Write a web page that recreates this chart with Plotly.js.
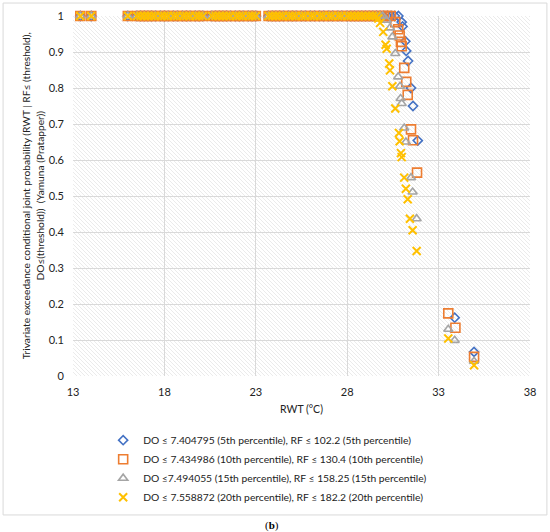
<!DOCTYPE html>
<html><head><meta charset="utf-8">
<script src="https://cdn.plot.ly/plotly-3.0.1.min.js"></script>
<style>html,body{margin:0;padding:0;background:#fff}#plot{width:550px;height:532px}</style>
</head><body><div id="plot"></div>
<script>
// RWT observations where the joint probability equals 1 for all four series
const rwtTop = [13.4, 14.0, 16.0, 16.5, 16.7, 16.9, 17.1, 17.3, 17.5, 17.8, 18.0, 18.2, 18.5, 18.7, 19.0, 19.2, 19.4, 19.7, 19.9, 20.1, 20.6, 20.8, 21.0, 21.2, 21.4, 21.6, 21.9, 22.1, 22.3, 22.6, 22.8, 23.0, 23.7, 23.9, 24.1, 24.3, 24.5, 24.8, 25.0, 25.2, 25.5, 25.7, 26.0, 26.2, 26.5, 26.7, 27.0, 27.2, 27.5, 27.7, 28.0, 28.2, 28.4, 28.6, 28.8, 29.0, 29.2, 29.4, 29.6];

// extra points at probability 1 near the drop, per series
const top5 = [29.8, 30.0, 30.2, 30.4, 30.6, 30.8];
const top10 = [29.8, 30.0, 30.2];
const top15 = [29.8];
const top20 = [];

// drop region points
const x5 = [30.98, 31.03, 31.18, 31.23, 31.33, 31.49, 31.60, 31.86, 33.88, 34.94];
const y5 = [0.983, 0.971, 0.930, 0.903, 0.875, 0.800, 0.750, 0.654, 0.162, 0.067];

const x10 = [30.38, 30.63, 30.79, 30.87, 30.94, 30.98, 31.12, 31.23, 31.31, 31.49, 31.60, 31.82, 33.53, 33.92, 34.94];
const y10 = [1.000, 0.983, 0.963, 0.946, 0.928, 0.916, 0.856, 0.817, 0.781, 0.685, 0.655, 0.565, 0.174, 0.134, 0.053];

const x15 = [29.94, 30.16, 30.34, 30.47, 30.63, 30.79, 30.89, 30.92, 30.98, 31.12, 31.21, 31.49, 31.58, 31.80, 33.53, 33.88, 34.94];
const y15 = [1.000, 0.988, 0.967, 0.942, 0.896, 0.831, 0.805, 0.771, 0.757, 0.689, 0.650, 0.551, 0.511, 0.437, 0.130, 0.099, 0.041];

const x20 = [29.70, 29.80, 29.97, 30.10, 30.16, 30.30, 30.34, 30.47, 30.63, 30.83, 30.87, 30.94, 30.98, 31.12, 31.21, 31.31, 31.43, 31.58, 31.80, 33.53, 34.94];
const y20 = [0.993, 0.981, 0.956, 0.920, 0.909, 0.868, 0.849, 0.805, 0.743, 0.675, 0.652, 0.619, 0.608, 0.551, 0.520, 0.491, 0.437, 0.405, 0.347, 0.104, 0.030];

const names = [
  "DO ≤ 7.404795 (5th percentile), RF ≤ 102.2 (5th percentile)",
  "DO ≤ 7.434986 (10th percentile), RF ≤ 130.4 (10th percentile)",
  "DO ≤7.494055 (15th percentile), RF ≤ 158.25 (15th percentile)",
  "DO ≤ 7.558872 (20th percentile), RF ≤ 182.2 (20th percentile)"
];
const xTicks = [13, 18, 23, 28, 33, 38];
const yTicks = [0, 0.1, 0.2, 0.3, 0.4, 0.5, 0.6, 0.7, 0.8, 0.9, 1];

function build(extra, xs, ys) {
  const X = rwtTop.concat(extra, xs);
  const Y = rwtTop.map(() => 1).concat(extra.map(() => 1), ys);
  return {X, Y};
}
const s5 = build(top5, x5, y5), s10 = build(top10, x10, y10), s15 = build(top15, x15, y15), s20 = build(top20, x20, y20);

const colors = ['#4472C4', '#ED7D31', '#A5A5A5', '#FFC000'];
const symbols = ['diamond-open', 'square-open', 'triangle-up-open', 'x-thin-open'];
const sizes = [7, 9, 8, 8];
const sets = [s5, s10, s15, s20];

const traces = sets.map((s, i) => ({
  type: 'scatter', mode: 'markers', x: s.X, y: s.Y, name: names[i],
  legendgroup: 'g' + i,
  marker: {symbol: symbols[i], size: sizes[i], color: colors[i], line: {color: colors[i], width: i === 3 ? 2 : 1.6}},
  cliponaxis: false
}));

const hatch = 'data:image/svg+xml;utf8,' + encodeURIComponent(
  '<svg xmlns="http://www.w3.org/2000/svg" width="457" height="360"><defs><pattern id="p" width="4" height="4" patternUnits="userSpaceOnUse"><path d="M-1,-1 L5,5 M-1,3 L1,5 M3,-1 L5,1" stroke="#e6e6e6" stroke-width="0.8"/></pattern></defs><rect width="457" height="360" fill="#ffffff"/><rect width="457" height="360" fill="url(#p)"/></svg>');

const layout = {
  width: 550, height: 532,
  margin: {l: 73, r: 20, t: 16, b: 156},
  paper_bgcolor: '#ffffff', plot_bgcolor: 'rgba(0,0,0,0)',
  font: {family: 'Lato, "Open Sans", sans-serif', size: 11, color: '#222'},
  showlegend: true,
  legend: {x: 0.066, y: -0.138, xanchor: 'left', yanchor: 'top', tracegroupgap: 0,
    font: {size: 10.3, color: '#222'}, bgcolor: 'rgba(0,0,0,0)', itemwidth: 30},
  xaxis: {range: [13, 38], tickvals: xTicks, ticktext: xTicks.map(String), showgrid: true, gridcolor: '#d9d9d9', gridwidth: 1,
    zeroline: false, showline: false, ticks: 'outside', ticklen: 6, tickcolor: 'rgba(0,0,0,0)', tickfont: {size: 11},
    title: {text: 'RWT (°C)', font: {size: 10.5}, standoff: 8}},
  yaxis: {range: [0, 1], tickvals: yTicks, ticktext: yTicks.map(String), showgrid: true, gridcolor: '#d9d9d9', gridwidth: 1,
    zeroline: false, showline: false, ticks: '', tickfont: {size: 11}, ticklabelstandoff: 8},
  images: [{source: hatch, xref: 'paper', yref: 'paper', x: 0, y: 1, sizex: 1, sizey: 1, sizing: 'stretch', layer: 'below'}],
  shapes: [{type: 'rect', xref: 'paper', yref: 'paper', x0: -0.153, x1: 1.037, y0: -0.386, y1: 1.036,
    line: {color: '#d9d9d9', width: 1}, fillcolor: 'rgba(0,0,0,0)', layer: 'below'}],
  annotations: [
    {xref: 'paper', yref: 'paper', x: -0.089, y: 0.5, xanchor: 'center', yanchor: 'middle', textangle: -90, showarrow: false,
      text: 'Trivariate exceedance conditional joint probability (RWT | RF≤ (threshold),<br>DO≤(threshold))  (Yamuna (Pratapper))',
      font: {size: 10.2, color: '#222'}},
    {xref: 'paper', yref: 'paper', x: (272 - 73) / 457, y: -(525 - 376) / 360, xanchor: 'center', yanchor: 'middle', showarrow: false,
      text: '(<b>b</b>)', font: {family: '"Liberation Serif", serif', size: 11, color: '#000'}}
  ]
};
Plotly.newPlot('plot', traces, layout, {displayModeBar: false, staticPlot: true});
</script></body></html>
